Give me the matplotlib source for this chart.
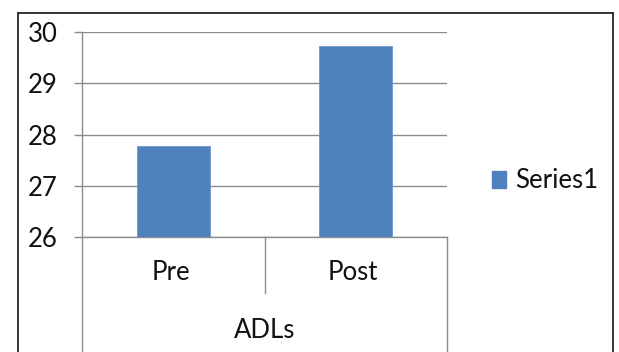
import matplotlib
matplotlib.use("Agg")
import matplotlib.pyplot as plt
from matplotlib.lines import Line2D
from matplotlib.patches import Patch
from matplotlib.transforms import blended_transform_factory

# Data
categories = ["Pre", "Post"]
values = [27.77, 29.73]
group_label = "ADLs"
series_name = "Series1"
y_ticks = [26, 27, 28, 29, 30]

W, H = 619, 352
DPI = 100
plt.rcParams["font.family"] = ["Lato", "DejaVu Sans"]
FS = 18.5
TXT = "#111111"
GRID = "#8c8c8c"
BAR = "#4f81bd"

fig = plt.figure(figsize=(W / DPI, H / DPI), dpi=DPI)

def fx(px):
    return px / W

def fy(py):
    return 1 - py / H

# Plot area
left, right, top, bottom = 82, 447, 32, 237.3
ax = fig.add_axes([fx(left), fy(bottom), fx(right - left), (bottom - top) / H])

x = list(range(len(categories)))
ax.bar(x, values, width=0.4, color=BAR, edgecolor="#6f97cc", linewidth=0.6,
       zorder=3)
ax.set_xlim(-0.5, len(categories) - 0.5)
ax.set_ylim(y_ticks[0], y_ticks[-1])
ax.set_yticks(y_ticks)
ax.set_yticklabels([str(t) for t in y_ticks], fontsize=FS, color=TXT)
ax.yaxis.grid(True, color=GRID, linewidth=1.0, zorder=0)
ax.set_xticks([])
for s in ["top", "right", "bottom", "left"]:
    ax.spines[s].set_visible(False)
ax.tick_params(axis="y", length=5.8, width=1.0, color=GRID, pad=11.5)
ax.set_facecolor("none")

# Axis lines and category separators drawn in figure pixels
def fig_line(x0, y0, x1, y1, color=GRID, lw=1.0):
    fig.add_artist(Line2D([fx(x0), fx(x1)], [fy(y0), fy(y1)], color=color,
                          linewidth=lw, transform=fig.transFigure, zorder=5))

fig_line(left, top, left, 352)           # value axis line extended
fig_line(left, bottom, right, bottom)     # base line
fig_line(265, bottom, 265, 293)           # separator between categories
fig_line(right, bottom, right, 352)       # right boundary of group box

# Category labels and group label
trans = blended_transform_factory(ax.transData, fig.transFigure)
for xi, c in zip(x, categories):
    fig.text(xi - 0.015, fy(273), c, transform=trans, fontsize=FS, color=TXT,
             ha="center", va="center")
fig.text(fx(265), fy(331), group_label, fontsize=FS, color=TXT,
         ha="center", va="center")

# Legend
fig.legend(handles=[Patch(facecolor=BAR, edgecolor=BAR)], labels=[series_name],
           loc="center left", bbox_to_anchor=(fx(492), fy(181)),
           frameon=False, fontsize=FS, handlelength=0.55, handleheight=0.6,
           handletextpad=0.35, borderpad=0, borderaxespad=0, labelcolor=TXT)

# Chart border
border_color = "#262626"
fig_line(17.5, 12.5, 613, 12.5, color=border_color, lw=1.3)
fig_line(17.5, 12.5, 17.5, 360, color=border_color, lw=1.3)
fig_line(613, 12.5, 613, 360, color=border_color, lw=1.3)

fig.savefig("out.png", dpi=DPI)
